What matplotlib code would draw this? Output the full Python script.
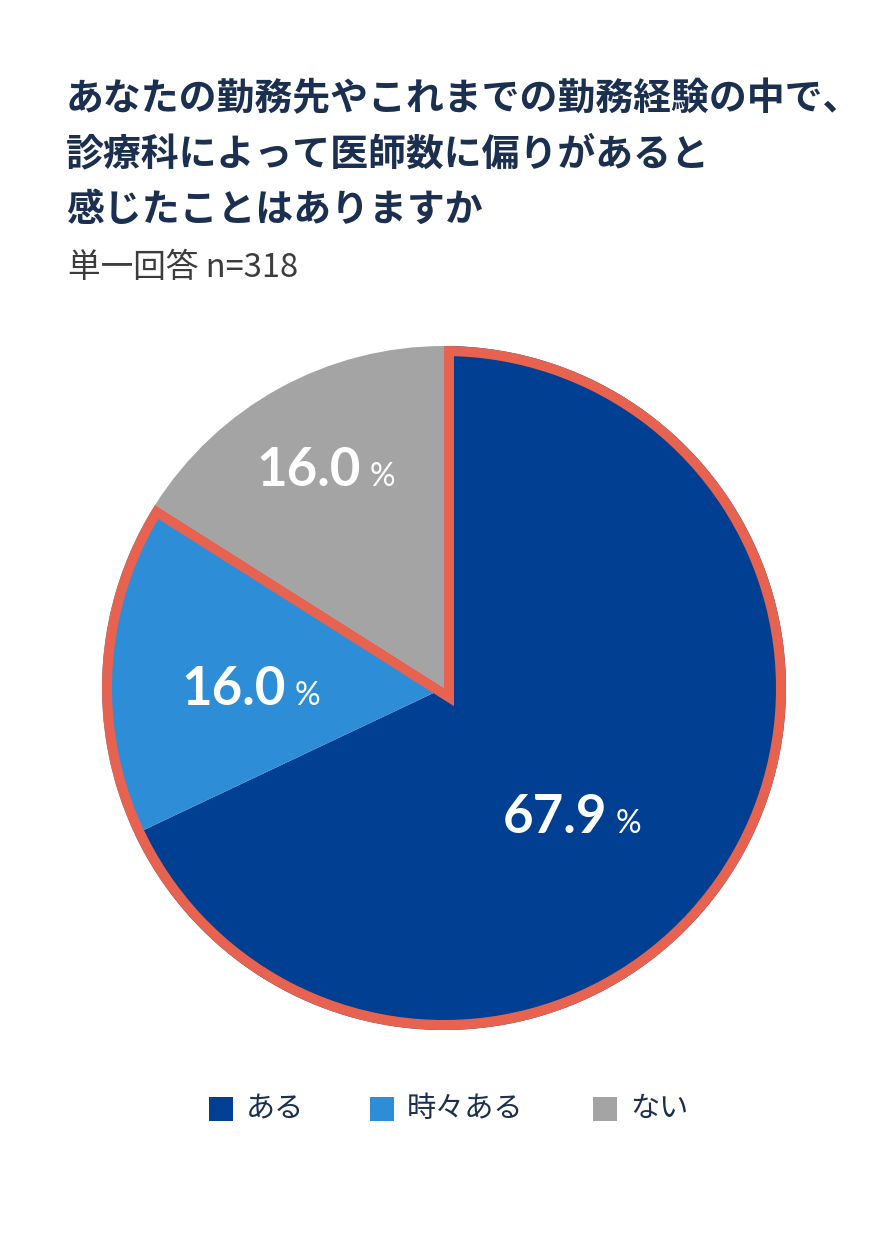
import numpy as np
import matplotlib.pyplot as plt
from matplotlib.patches import Wedge, Rectangle

# data
labels = ['ある', '時々ある', 'ない']
values = [67.9, 16.0, 16.0]
colors = ['#003f92', '#2d8dd6', '#a4a4a4']
n_resp = 318
title_lines = ['あなたの勤務先やこれまでの勤務経験の中で、',
               '診療科によって医師数に偏りがあると',
               '感じたことはありますか']

W, H = 886, 1251
fig = plt.figure(figsize=(W / 100, H / 100), dpi=100)
fig.patch.set_facecolor('white')
ax = fig.add_axes([0, 0, 1, 1])

cx, cy, r = 444, H - 688, 342
wedges, _ = ax.pie(values, colors=colors, startangle=90, counterclock=False,
                   center=(cx, cy), radius=r, normalize=True,
                   wedgeprops=dict(linewidth=0))
ax.set_xlim(0, W)
ax.set_ylim(0, H)
ax.set_aspect('equal')
ax.axis('off')

# red outline around "ある" + "時々ある" (inner stroke)
frac = (values[0] + values[1]) / sum(values)
t1 = 90 - frac * 360
outline = Wedge((cx, cy), r, t1, 90, fill=False, ec='#e8634f', lw=14.4,
                joinstyle='miter', zorder=3)
clip = Wedge((cx, cy), r, t1, 90, transform=ax.transData)
ax.add_patch(outline)
outline.set_clip_path(clip)

# percent labels: (number right edge x, baseline y) in px from top
label_pos = [(607, 833), (286, 705), (361, 486)]
for v, (lx, ly) in zip(values, label_pos):
    ax.text(lx, H - ly, f'{v:.1f}', color='white', fontsize=38, fontfamily='Lato',
            fontweight='bold', ha='right', va='baseline', zorder=4)
    ax.text(lx + 9, H - ly, '%', color='white', fontsize=23, fontfamily='Lato',
            fontweight='normal', ha='left', va='baseline', zorder=4)

# title
navy = '#1b3050'
for i, line in enumerate(title_lines):
    fig.text(66 / W, 1 - (99 + i * 55) / H, line, fontsize=27.3, color=navy,
             fontfamily='Noto Sans CJK JP', fontweight='bold', va='center', ha='left')
fig.text(68 / W, 1 - 268 / H, f'単一回答 n={n_resp}', fontsize=23.5, color='#3c3c3c',
         fontfamily='Noto Sans CJK JP', va='center', ha='left')

# legend
leg_x = [209, 370, 593]
for lab, col, x in zip(labels, colors, leg_x):
    ax.add_patch(Rectangle((x, H - 1121), 24, 24, color=col, lw=0))
    ax.text(x + 37, H - 1109, lab, fontsize=21, color=navy,
            fontfamily='Noto Sans CJK JP', va='center', ha='left')

plt.savefig('out.png', dpi=100)
